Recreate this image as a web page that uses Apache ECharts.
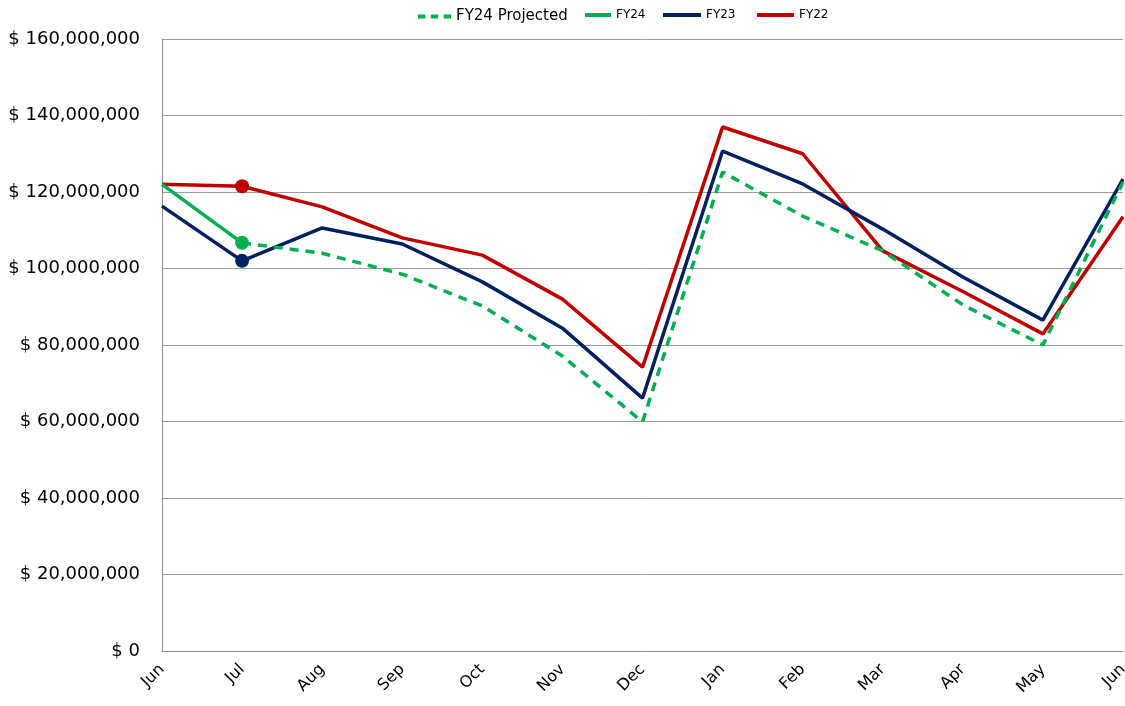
<!DOCTYPE html>
<html>
<head>
	<meta charset="utf-8">
	<title>FY revenue by month</title>
	<script src="https://cdn.jsdelivr.net/npm/echarts@6/dist/echarts.min.js"></script>
	<style>
		html, body { margin: 0; padding: 0; background: #fff; }
		#chart { width: 1125px; height: 706px; }
	</style>
</head>
<body>
	<div id="chart"></div>
	<script>
	// months, Jun through Jun
	var months = ['Jun', 'Jul', 'Aug', 'Sep', 'Oct', 'Nov', 'Dec', 'Jan', 'Feb', 'Mar', 'Apr', 'May', 'Jun'];

	var fy24 = [122000000, 106700000, null, null, null, null, null, null, null, null, null, null, null];
	var fy24Projected = [null, 106700000, 104000000, 98500000, 90200000, 77100000, 59900000, 125200000, 113700000, 104600000, 90500000, 80000000, 122600000];
	var fy23 = [116300000, 102000000, 110600000, 106400000, 96500000, 84400000, 66100000, 130700000, 122100000, 110300000, 97800000, 86500000, 123400000];
	var fy22 = [122000000, 121500000, 116100000, 108000000, 103500000, 92000000, 74200000, 137000000, 130000000, 104600000, 94000000, 82900000, 113500000];

	var markAt = 1; // Jul gets a dot

	function withDot(arr, color) {
		return arr.map(function (v, i) {
			if (i === markAt && v != null) {
				return { value: v, symbol: 'circle', symbolSize: 14, itemStyle: { color: color } };
			}
			return v;
		});
	}

	var solidIcon = 'path://M0,0H40V4H0Z';
	var dashIcon = 'path://M0,0H8V4H0Z M14,0H22V4H14Z M28,0H36V4H28Z';

	// one legend per entry so each can sit where the original has it
	function legendAt(name, left, w, icon, size) {
		return {
			left: left, top: 4,
			itemWidth: w, itemHeight: 4,
			symbolKeepAspect: false,
			textStyle: { color: '#000', fontSize: size },
			data: [{ name: name, icon: icon }]
		};
	}

	var myChart = echarts.init(document.getElementById('chart'));
	var option = {
		animation: false,
		textStyle: { fontFamily: 'DejaVu Sans' },
		legend: [
			legendAt('FY24 Projected', 413, 33, dashIcon, 15),
			legendAt('FY24', 580, 26, solidIcon, 12),
			legendAt('FY23', 658, 38, solidIcon, 12),
			legendAt('FY22', 752, 37, solidIcon, 12)
		],
		grid: { left: 162, right: 2, top: 39, bottom: 55, outerBoundsMode: 'none' },
		xAxis: {
			type: 'category',
			boundaryGap: false,
			data: months,
			axisLine: { lineStyle: { color: '#8c8c8c' } },
			axisTick: { show: false },
			axisLabel: { rotate: 45, color: '#000', fontSize: 16, margin: 16 }
		},
		yAxis: {
			type: 'value',
			min: 0,
			max: 160000000,
			interval: 20000000,
			axisLine: { show: true, lineStyle: { color: '#8c8c8c' } },
			axisTick: { show: false },
			splitLine: { lineStyle: { color: '#9a9a9a', width: 1 } },
			axisLabel: {
				color: '#000',
				fontSize: 18,
				margin: 22,
				formatter: function (v) { return '$ ' + v.toLocaleString('en-US'); }
			}
		},
		series: [
			{
				name: 'FY24 Projected', type: 'line', symbol: 'none',
				data: fy24Projected,
				lineStyle: { color: '#00B050', width: 3.5, type: [9, 7] },
				itemStyle: { color: '#00B050' },
				z: 4
			},
			{
				name: 'FY24', type: 'line', symbol: 'none',
				data: withDot(fy24, '#00B050'),
				lineStyle: { color: '#00B050', width: 3.5 },
				itemStyle: { color: '#00B050' },
				z: 5
			},
			{
				name: 'FY23', type: 'line', symbol: 'none',
				data: withDot(fy23, '#002060'),
				lineStyle: { color: '#002060', width: 3.5 },
				itemStyle: { color: '#002060' },
				z: 3
			},
			{
				name: 'FY22', type: 'line', symbol: 'none',
				data: withDot(fy22, '#C00000'),
				lineStyle: { color: '#C00000', width: 3.5 },
				itemStyle: { color: '#C00000' },
				z: 2
			}
		]
	};
	myChart.setOption(option);
	</script>
</body>
</html>
